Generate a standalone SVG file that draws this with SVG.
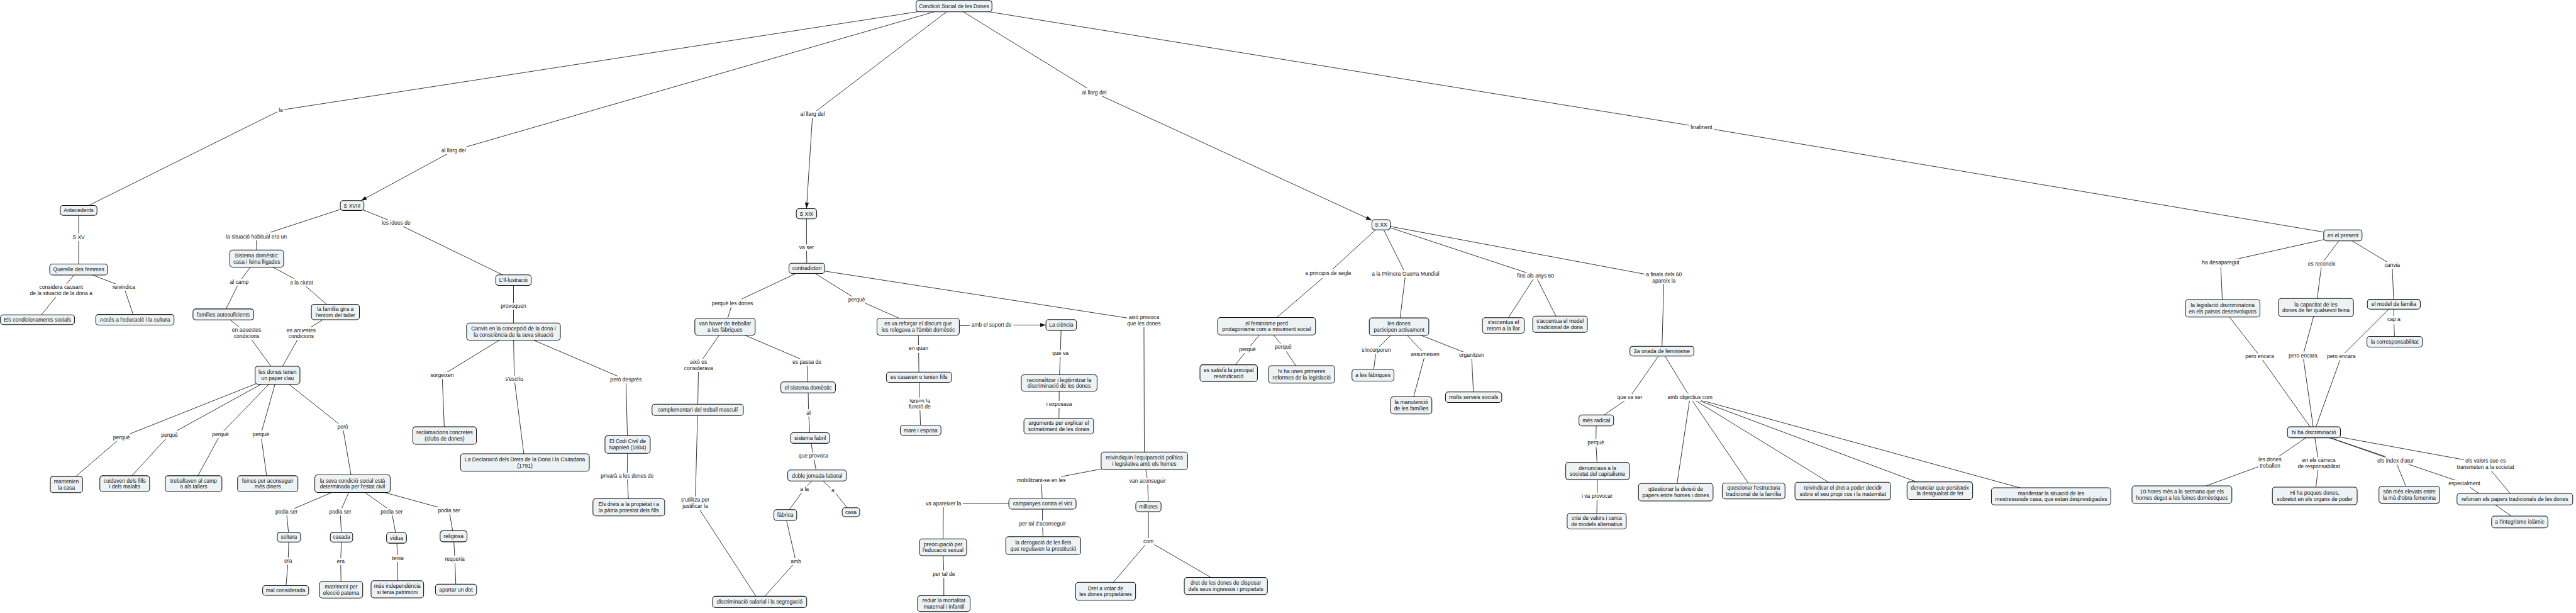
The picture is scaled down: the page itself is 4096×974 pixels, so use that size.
<svg xmlns="http://www.w3.org/2000/svg" width="4096" height="974" viewBox="0 0 4096 974">
<style>
.n rect{fill:#edf3f5;stroke:#111;stroke-width:1.6}
text{font-family:"Liberation Sans",Arial,sans-serif;font-size:13.2px;fill:#111;text-anchor:middle}
.l text{stroke:#fff;stroke-width:9;stroke-linejoin:round;paint-order:stroke}
.c path{stroke:#111;stroke-width:1.3;fill:none}
</style>
<defs>
<marker id="arr" markerUnits="userSpaceOnUse" markerWidth="14" markerHeight="10" refX="14" refY="5" orient="auto" viewBox="0 0 14 10"><path d="M0,0 L14,5 L0,10 z" fill="#111"/></marker>
</defs>
<rect width="4096" height="974" fill="#fff"/>
<g transform="scale(0.648)">
<g id="connectors" class="c">
<path d="M2341 15 L689 270 L193 516"/>
<path d="M2341 15 L1113 369"/><path d="M1113 369 L886 492" marker-end="url(#arr)"/>
<path d="M2341 15 L1994 279"/><path d="M1994 279 L1979 511" marker-end="url(#arr)"/>
<path d="M2341 15 L2685 227"/><path d="M2685 227 L3366 540" marker-end="url(#arr)"/>
<path d="M2341 15 L4175 312 L5749 577"/>
<path d="M193 516 L193 582 L193 661"/>
<path d="M193 661 L150 712 L92 784"/>
<path d="M193 661 L304 704 L331 784"/>
<path d="M864 504 L629 581 L630 634"/>
<path d="M864 504 L972 547 L1260 687"/>
<path d="M630 634 L587 692 L548 771"/>
<path d="M630 634 L740 693 L823 765"/>
<path d="M548 771 L605 816 L681 920"/>
<path d="M823 765 L739 817 L681 920"/>
<path d="M681 920 L298 1072 L163 1188"/>
<path d="M681 920 L416 1066 L306 1186"/>
<path d="M681 920 L541 1065 L475 1186"/>
<path d="M681 920 L640 1065 L657 1186"/>
<path d="M681 920 L841 1047 L865 1186"/>
<path d="M865 1186 L703 1255 L709 1317"/>
<path d="M865 1186 L835 1255 L838 1317"/>
<path d="M865 1186 L961 1254 L973 1319"/>
<path d="M865 1186 L1102 1251 L1113 1315"/>
<path d="M709 1317 L707 1375 L701 1448"/>
<path d="M838 1317 L836 1376 L837 1446"/>
<path d="M973 1319 L976 1369 L975 1445"/>
<path d="M1113 1315 L1116 1371 L1119 1446"/>
<path d="M1260 687 L1260 750 L1260 813"/>
<path d="M1260 813 L1085 920 L1091 1068"/>
<path d="M1260 813 L1262 929 L1288 1134"/>
<path d="M1260 813 L1536 931 L1540 1090"/>
<path d="M1540 1090 L1539 1166 L1543 1244"/>
<path d="M1979 524 L1979 606 L1980 658"/>
<path d="M1980 658 L1797 744 L1779 801"/>
<path d="M1980 658 L2102 734 L2253 801"/>
<path d="M1980 658 L2807 786 L2808 1130"/>
<path d="M1779 801 L1714 895 L1712 1005"/>
<path d="M1779 801 L1980 887 L1983 950"/>
<path d="M1983 950 L1984 1012 L1988 1074"/>
<path d="M1988 1074 L1996 1118 L2005 1166"/>
<path d="M2005 1166 L1974 1199 L1927 1263"/>
<path d="M2005 1166 L2044 1202 L2088 1256"/>
<path d="M1927 1263 L1953 1377 L1864 1476"/>
<path d="M1712 1005 L1706 1233 L1864 1476"/>
<path d="M2253 801 L2433 797"/><path d="M2433 797 L2566 797" marker-end="url(#arr)"/>
<path d="M2253 801 L2254 854 L2255 925"/>
<path d="M2255 925 L2257 990 L2259 1055"/>
<path d="M2604 797 L2602 866 L2599 939"/>
<path d="M2599 939 L2599 991 L2598 1045"/>
<path d="M2808 1130 L2555 1178 L2558 1235"/>
<path d="M2558 1235 L2315 1234 L2314 1342"/>
<path d="M2558 1235 L2558 1284 L2560 1338"/>
<path d="M2314 1342 L2316 1407 L2316 1480"/>
<path d="M2808 1130 L2816 1179 L2818 1242"/>
<path d="M2818 1242 L2818 1327 L2713 1450"/>
<path d="M2818 1327 L3008 1437"/>
<path d="M3389 551 L3259 670 L3108 800"/>
<path d="M3389 551 L3449 671 L3433 801"/>
<path d="M3389 551 L3768 676 L3689 798"/>
<path d="M3768 676 L3828 795"/>
<path d="M3389 551 L4083 681 L4078 861"/>
<path d="M3108 800 L3061 857 L3015 915"/>
<path d="M3108 800 L3149 851 L3194 918"/>
<path d="M3433 801 L3377 858 L3369 920"/>
<path d="M3433 801 L3497 869 L3463 994"/>
<path d="M3433 801 L3611 871 L3616 974"/>
<path d="M4078 861 L3999 974 L3917 1031"/>
<path d="M4078 861 L4147 974 L4112 1207"/>
<path d="M4147 974 L4303 1204"/>
<path d="M4147 974 L4522 1204"/>
<path d="M4147 974 L4760 1203"/>
<path d="M4147 974 L5033 1217"/>
<path d="M3917 1031 L3916 1085 L3920 1155"/>
<path d="M3920 1155 L3919 1216 L3918 1278"/>
<path d="M5749 577 L5449 644 L5454 756"/>
<path d="M5749 577 L5697 647 L5683 754"/>
<path d="M5749 577 L5870 650 L5874 746"/>
<path d="M5874 746 L5874 783 L5876 838"/>
<path d="M5454 756 L5545 873 L5678 1060"/>
<path d="M5683 754 L5651 872 L5678 1060"/>
<path d="M5874 746 L5745 874 L5678 1060"/>
<path d="M5678 1060 L5570 1134 L5354 1213"/>
<path d="M5678 1060 L5690 1136 L5680 1216"/>
<path d="M5678 1060 L5878 1130 L5912 1213"/>
<path d="M5678 1060 L6047 1185 L6183 1280"/>
<path d="M5678 1060 L6099 1137 L6171 1224"/>
<g class="l">
<text x="689" y="274.6">la</text>
<text x="1113" y="373.6">al llarg del</text>
<text x="1994" y="283.6">al llarg del</text>
<text x="2685" y="231.6">al llarg del</text>
<text x="4175" y="316.6">finalment</text>
<text x="193" y="586.6">S XV</text>
<text x="150" y="709.1">considera causant<tspan x="150" dy="15">de la situació de la dona a</tspan></text>
<text x="304" y="708.6">reivindica</text>
<text x="629" y="585.6">la situació habitual era un</text>
<text x="972" y="551.6">les idees de</text>
<text x="587" y="696.6">al camp</text>
<text x="740" y="697.6">a la ciutat</text>
<text x="605" y="813.1">en aquestes<tspan x="605" dy="15">condicions</tspan></text>
<text x="739" y="814.1">en aquestes<tspan x="739" dy="15">condicions</tspan></text>
<text x="298" y="1076.6">perquè</text>
<text x="416" y="1070.6">perquè</text>
<text x="541" y="1069.6">perquè</text>
<text x="640" y="1069.6">perquè</text>
<text x="841" y="1051.6">però</text>
<text x="703" y="1259.6">podia ser</text>
<text x="835" y="1259.6">podia ser</text>
<text x="961" y="1258.6">podia ser</text>
<text x="1102" y="1255.6">podia ser</text>
<text x="707" y="1379.6">era</text>
<text x="836" y="1380.6">era</text>
<text x="976" y="1373.6">tenia</text>
<text x="1116" y="1375.6">requeria</text>
<text x="1260" y="754.6">provoquen</text>
<text x="1085" y="924.6">sorgeixen</text>
<text x="1262" y="933.6">s'escriu</text>
<text x="1536" y="935.6">però després</text>
<text x="1539" y="1170.6">privarà a les dones de</text>
<text x="1979" y="610.6">va ser</text>
<text x="1797" y="748.6">perquè les dones</text>
<text x="2102" y="738.6">perquè</text>
<text x="2807" y="783.1">això provoca<tspan x="2807" dy="15">que les dones</tspan></text>
<text x="1714" y="892.1">això es<tspan x="1714" dy="15">considerava</tspan></text>
<text x="1980" y="891.6">es passa de</text>
<text x="1984" y="1016.6">al</text>
<text x="1996" y="1122.6">que provoca</text>
<text x="1974" y="1203.6">a la</text>
<text x="2044" y="1206.6">a</text>
<text x="1953" y="1381.6">amb</text>
<text x="1706" y="1230.1">s'utilitza per<tspan x="1706" dy="15">justificar la</tspan></text>
<text x="2433" y="801.6">amb el suport de</text>
<text x="2254" y="858.6">en quan</text>
<text x="2257" y="987.1">tenien la<tspan x="2257" dy="15">funció de</tspan></text>
<text x="2602" y="870.6">que va</text>
<text x="2599" y="995.6">i exposava</text>
<text x="2555" y="1182.6">mobilitzant-se en les</text>
<text x="2315" y="1238.6">va apareixer la</text>
<text x="2558" y="1288.6">per tal d'aconseguir</text>
<text x="2316" y="1411.6">per tal de</text>
<text x="2816" y="1183.6">van aconseguir</text>
<text x="2818" y="1331.6">com</text>
<text x="3259" y="674.6">a principis de segle</text>
<text x="3449" y="675.6">a la Primera Guerra Mundial</text>
<text x="3768" y="680.6">fins als anys 60</text>
<text x="4083" y="678.1">a finals dels 60<tspan x="4083" dy="15">apareix la</tspan></text>
<text x="3061" y="861.6">perquè</text>
<text x="3149" y="855.6">perquè</text>
<text x="3377" y="862.6">s'incorporen</text>
<text x="3497" y="873.6">assumeixen</text>
<text x="3611" y="875.6">organitzen</text>
<text x="3999" y="978.6">que va ser</text>
<text x="4147" y="978.6">amb objectius com</text>
<text x="3916" y="1089.6">perquè</text>
<text x="3919" y="1220.6">i va provocar</text>
<text x="5449" y="648.6">ha desaparegut</text>
<text x="5697" y="651.6">es reconeix</text>
<text x="5870" y="654.6">canvia</text>
<text x="5874" y="787.6">cap a</text>
<text x="5545" y="877.6">pero encara</text>
<text x="5651" y="876.6">pero encara</text>
<text x="5745" y="878.6">pero encara</text>
<text x="5570" y="1131.1">les dones<tspan x="5570" dy="15">treballen</tspan></text>
<text x="5690" y="1133.1">en els càrrecs<tspan x="5690" dy="15">de responsabilitat</tspan></text>
<text x="5878" y="1134.6">els índex d'atur</text>
<text x="6047" y="1189.6">especialment</text>
<text x="6099" y="1134.1">els valors que es<tspan x="6099" dy="15">transmeten a la societat</tspan></text>
</g>
</g>
<g id="n-root" class="n"><rect x="2248" y="1" width="186" height="28" rx="7"/><text x="2341" y="19.6">Condició Social de les Dones</text></g>
<g id="n-antecedents" class="n"><rect x="148" y="504" width="90" height="24" rx="7"/><text x="193" y="520.6">Antecedents</text></g>
<g id="n-querelle" class="n"><rect x="122" y="647.5" width="142" height="27" rx="7"/><text x="193" y="665.6">Querelle des femmes</text></g>
<g id="n-condicionaments" class="n"><rect x="1" y="772" width="182" height="24" rx="7"/><text x="92" y="788.6">Els condicionaments socials</text></g>
<g id="n-acces" class="n"><rect x="235" y="771" width="192" height="26" rx="7"/><text x="331" y="788.6">Accés a l'educació i la cultura</text></g>
<g id="n-s18" class="n"><rect x="835" y="492" width="58" height="24" rx="7"/><text x="864" y="508.6">S XVIII</text></g>
<g id="n-sistema" class="n"><rect x="564" y="613" width="132" height="42" rx="7"/><text x="630" y="631.1">Sistema domèstic:<tspan x="630" dy="15">casa i feina lligades</tspan></text></g>
<g id="n-families" class="n"><rect x="473.5" y="757.5" width="149" height="27" rx="7"/><text x="548" y="775.6">famílies autosuficients</text></g>
<g id="n-taller" class="n"><rect x="764" y="746" width="118" height="38" rx="7"/><text x="823" y="762.1">la família gira a<tspan x="823" dy="15">l'entorn del taller</tspan></text></g>
<g id="n-paperclau" class="n"><rect x="626" y="898" width="110" height="44" rx="7"/><text x="681" y="917.1">les dones tenen<tspan x="681" dy="15">un paper clau</tspan></text></g>
<g id="n-mantenien" class="n"><rect x="123.5" y="1168" width="79" height="40" rx="7"/><text x="163" y="1185.1">mantenien<tspan x="163" dy="15">la casa</tspan></text></g>
<g id="n-cuidaven" class="n"><rect x="245" y="1166.5" width="122" height="39" rx="7"/><text x="306" y="1183.1">cuidaven dels fills<tspan x="306" dy="15">i dels malalts</tspan></text></g>
<g id="n-treballaven" class="n"><rect x="405.5" y="1166.5" width="139" height="39" rx="7"/><text x="475" y="1183.1">treballaven al camp<tspan x="475" dy="15">o als tallers</tspan></text></g>
<g id="n-feines" class="n"><rect x="583" y="1166.5" width="148" height="39" rx="7"/><text x="657" y="1183.1">feines per aconseguir<tspan x="657" dy="15">més diners</tspan></text></g>
<g id="n-estatcivil" class="n"><rect x="772.5" y="1164.5" width="185" height="43" rx="7"/><text x="865" y="1183.1">la seva condició social està<tspan x="865" dy="15">determinada per l'estat civil</tspan></text></g>
<g id="n-soltera" class="n"><rect x="680.5" y="1305" width="57" height="24" rx="7"/><text x="709" y="1321.6">soltera</text></g>
<g id="n-casada" class="n"><rect x="810.5" y="1305" width="55" height="24" rx="7"/><text x="838" y="1321.6">casada</text></g>
<g id="n-vidua" class="n"><rect x="948.5" y="1306" width="49" height="26" rx="7"/><text x="973" y="1323.6">vídua</text></g>
<g id="n-religiosa" class="n"><rect x="1080" y="1301.5" width="66" height="27" rx="7"/><text x="1113" y="1319.6">religiosa</text></g>
<g id="n-malconsiderada" class="n"><rect x="644.5" y="1436" width="113" height="24" rx="7"/><text x="701" y="1452.6">mal considerada</text></g>
<g id="n-matrimoni" class="n"><rect x="784" y="1425.5" width="106" height="41" rx="7"/><text x="837" y="1443.1">matrimoni per<tspan x="837" dy="15">elecció paterna</tspan></text></g>
<g id="n-independencia" class="n"><rect x="910.5" y="1424" width="129" height="42" rx="7"/><text x="975" y="1442.1">més independència<tspan x="975" dy="15">si tenia patrimoni</tspan></text></g>
<g id="n-dot" class="n"><rect x="1068.5" y="1432.5" width="101" height="27" rx="7"/><text x="1119" y="1450.6">aportar un dot</text></g>
<g id="n-illustracio" class="n"><rect x="1216.5" y="674" width="87" height="26" rx="7"/><text x="1260" y="691.6">L'Il·lustració</text></g>
<g id="n-canvis" class="n"><rect x="1145" y="792" width="230" height="42" rx="7"/><text x="1260" y="810.1">Canvis en la concepció de la dona i<tspan x="1260" dy="15">la consciència de la seva situació</tspan></text></g>
<g id="n-reclamacions" class="n"><rect x="1013" y="1046.5" width="156" height="43" rx="7"/><text x="1091" y="1065.1">reclamacions concretes<tspan x="1091" dy="15">(clubs de dones)</tspan></text></g>
<g id="n-declaracio" class="n"><rect x="1130" y="1112.5" width="316" height="43" rx="7"/><text x="1288" y="1131.1">La Declaració dels Drets de la Dona i la Ciutadana<tspan x="1288" dy="15">(1791)</tspan></text></g>
<g id="n-codi" class="n"><rect x="1484.5" y="1068.5" width="111" height="43" rx="7"/><text x="1540" y="1087.1">El Codi Civil de<tspan x="1540" dy="15">Napoleó (1804)</tspan></text></g>
<g id="n-drets" class="n"><rect x="1455" y="1223" width="176" height="42" rx="7"/><text x="1543" y="1241.1">Els drets a la propietat i a<tspan x="1543" dy="15">la pàtria potestat dels fills</tspan></text></g>
<g id="n-s19" class="n"><rect x="1954" y="511.5" width="50" height="25" rx="7"/><text x="1979" y="528.6">S XIX</text></g>
<g id="n-contradictori" class="n"><rect x="1936" y="645.5" width="88" height="25" rx="7"/><text x="1980" y="662.6">contradictori</text></g>
<g id="n-fabriques" class="n"><rect x="1705" y="780" width="148" height="42" rx="7"/><text x="1779" y="798.1">van haver de treballar<tspan x="1779" dy="15">a les fàbriques</tspan></text></g>
<g id="n-complementari" class="n"><rect x="1600" y="991" width="224" height="28" rx="7"/><text x="1712" y="1009.6">complementari del treball masculí</text></g>
<g id="n-sisdomestic" class="n"><rect x="1916" y="936.5" width="134" height="27" rx="7"/><text x="1983" y="954.6">el sistema domèstic</text></g>
<g id="n-fabril" class="n"><rect x="1940" y="1061" width="96" height="26" rx="7"/><text x="1988" y="1078.6">sistema fabril</text></g>
<g id="n-doble" class="n"><rect x="1933" y="1152.5" width="144" height="27" rx="7"/><text x="2005" y="1170.6">doble jornada laboral</text></g>
<g id="n-fabrica" class="n"><rect x="1899" y="1249.5" width="56" height="27" rx="7"/><text x="1927" y="1267.6">fàbrica</text></g>
<g id="n-casa" class="n"><rect x="2066.5" y="1245" width="43" height="22" rx="7"/><text x="2088" y="1260.6">casa</text></g>
<g id="n-salarial" class="n"><rect x="1748.5" y="1462" width="231" height="28" rx="7"/><text x="1864" y="1480.6">discriminació salarial i la segregació</text></g>
<g id="n-reforcar" class="n"><rect x="2152" y="780" width="202" height="42" rx="7"/><text x="2253" y="798.1">es va reforçar el discurs que<tspan x="2253" dy="15">les relegava a l'àmbit domèstic</tspan></text></g>
<g id="n-ciencia" class="n"><rect x="2566.5" y="783.5" width="75" height="27" rx="7"/><text x="2604" y="801.6">La ciència</text></g>
<g id="n-casaven" class="n"><rect x="2175" y="912.5" width="160" height="25" rx="7"/><text x="2255" y="929.6">es casaven o tenien fills</text></g>
<g id="n-mare" class="n"><rect x="2209" y="1042.5" width="100" height="25" rx="7"/><text x="2259" y="1059.6">mare i esposa</text></g>
<g id="n-racionalitzar" class="n"><rect x="2506" y="919" width="186" height="40" rx="7"/><text x="2599" y="936.1">racionalitzar i legitimitzar la<tspan x="2599" dy="15">discriminació de les dones</tspan></text></g>
<g id="n-arguments" class="n"><rect x="2512.5" y="1026" width="171" height="38" rx="7"/><text x="2598" y="1042.1">arguments per explicar el<tspan x="2598" dy="15">sotmetiment de les dones</tspan></text></g>
<g id="n-reivindiquin" class="n"><rect x="2702" y="1108.5" width="212" height="43" rx="7"/><text x="2808" y="1127.1">reivindiquin l'equiparació política<tspan x="2808" dy="15">i legislativa amb els homes</tspan></text></g>
<g id="n-campanyes" class="n"><rect x="2475.5" y="1221.5" width="165" height="27" rx="7"/><text x="2558" y="1239.6">campanyes contra el vici</text></g>
<g id="n-preocupacio" class="n"><rect x="2256" y="1321.5" width="116" height="41" rx="7"/><text x="2314" y="1339.1">preocupació per<tspan x="2314" dy="15">l'educació sexual</tspan></text></g>
<g id="n-derogacio" class="n"><rect x="2468" y="1316" width="184" height="44" rx="7"/><text x="2560" y="1335.1">la derogació de les lleis<tspan x="2560" dy="15">que regulaven la prostitució</tspan></text></g>
<g id="n-reduir" class="n"><rect x="2251.5" y="1460.5" width="129" height="39" rx="7"/><text x="2316" y="1477.1">reduir la mortalitat<tspan x="2316" dy="15">maternal i infantil</tspan></text></g>
<g id="n-millores" class="n"><rect x="2787" y="1229.5" width="62" height="25" rx="7"/><text x="2818" y="1246.6">millores</text></g>
<g id="n-vot" class="n"><rect x="2639.5" y="1428" width="147" height="44" rx="7"/><text x="2713" y="1447.1">Dret a votar de<tspan x="2713" dy="15">les dones propietàries</tspan></text></g>
<g id="n-disposar" class="n"><rect x="2906" y="1416" width="204" height="42" rx="7"/><text x="3008" y="1434.1">dret de les dones de disposar<tspan x="3008" dy="15">dels seus ingressos i propietats</tspan></text></g>
<g id="n-s20" class="n"><rect x="3366.5" y="538.5" width="45" height="25" rx="7"/><text x="3389" y="555.6">S XX</text></g>
<g id="n-feminismeperd" class="n"><rect x="2988" y="778.5" width="240" height="43" rx="7"/><text x="3108" y="797.1">el feminisme perd<tspan x="3108" dy="15">protagonisme com a moviment social</tspan></text></g>
<g id="n-satisfa" class="n"><rect x="2944.5" y="894.5" width="141" height="41" rx="7"/><text x="3015" y="912.1">es satisfà la principal<tspan x="3015" dy="15">reivindicació</tspan></text></g>
<g id="n-reformes" class="n"><rect x="3113" y="896.5" width="162" height="43" rx="7"/><text x="3194" y="915.1">hi ha unes primeres<tspan x="3194" dy="15">reformes de la legislació</tspan></text></g>
<g id="n-participen" class="n"><rect x="3360" y="779.5" width="146" height="43" rx="7"/><text x="3433" y="798.1">les dones<tspan x="3433" dy="15">participen activament</tspan></text></g>
<g id="n-afabriques" class="n"><rect x="3317.5" y="905.5" width="103" height="29" rx="7"/><text x="3369" y="924.6">a les fàbriques</text></g>
<g id="n-manutencio" class="n"><rect x="3412.5" y="973" width="101" height="42" rx="7"/><text x="3463" y="991.1">la manutenció<tspan x="3463" dy="15">de les famílies</tspan></text></g>
<g id="n-serveis" class="n"><rect x="3547" y="961" width="138" height="26" rx="7"/><text x="3616" y="978.6">molts serveis socials</text></g>
<g id="n-retorn" class="n"><rect x="3637.5" y="779" width="103" height="38" rx="7"/><text x="3689" y="795.1">s'accentua el<tspan x="3689" dy="15">retorn a la llar</tspan></text></g>
<g id="n-modeltrad" class="n"><rect x="3761" y="775" width="134" height="40" rx="7"/><text x="3828" y="792.1">s'accentua el model<tspan x="3828" dy="15">tradicional de dona</tspan></text></g>
<g id="n-onada" class="n"><rect x="3999.5" y="849" width="157" height="24" rx="7"/><text x="4078" y="865.6">2a onada de feminisme</text></g>
<g id="n-radical" class="n"><rect x="3874.5" y="1017.5" width="85" height="27" rx="7"/><text x="3917" y="1035.6">més radical</text></g>
<g id="n-capitalisme" class="n"><rect x="3842" y="1133.5" width="156" height="43" rx="7"/><text x="3920" y="1152.1">denunciava a la<tspan x="3920" dy="15">societat del capitalisme</tspan></text></g>
<g id="n-crisi" class="n"><rect x="3845.5" y="1259" width="145" height="38" rx="7"/><text x="3918" y="1275.1">crisi de valors i cerca<tspan x="3918" dy="15">de models alternatius</tspan></text></g>
<g id="n-qdivisio" class="n"><rect x="4020.5" y="1185.5" width="183" height="43" rx="7"/><text x="4112" y="1204.1">qüestionar la divisió de<tspan x="4112" dy="15">papers entre homes i dones</tspan></text></g>
<g id="n-qestructura" class="n"><rect x="4226" y="1184.5" width="154" height="39" rx="7"/><text x="4303" y="1201.1">qüestionar l'estructura<tspan x="4303" dy="15">tradicional de la família</tspan></text></g>
<g id="n-reivcos" class="n"><rect x="4404.5" y="1182.5" width="235" height="43" rx="7"/><text x="4522" y="1201.1">reivindicar el dret a poder decidir<tspan x="4522" dy="15">sobre el seu propi cos i la maternitat</tspan></text></g>
<g id="n-desigualtat" class="n"><rect x="4679.5" y="1181.5" width="161" height="43" rx="7"/><text x="4760" y="1200.1">denunciar que persisteix<tspan x="4760" dy="15">la desigualtat de fet</tspan></text></g>
<g id="n-mestresses" class="n"><rect x="4886.5" y="1196" width="293" height="42" rx="7"/><text x="5033" y="1214.1">manifestar la situació de les<tspan x="5033" dy="15">mestressesde casa, que estan desprestigiades</tspan></text></g>
<g id="n-present" class="n"><rect x="5702" y="563.5" width="94" height="27" rx="7"/><text x="5749" y="581.6">en el present</text></g>
<g id="n-legislacio" class="n"><rect x="5362.5" y="734.5" width="183" height="43" rx="7"/><text x="5454" y="753.1">la legislació discriminatoria<tspan x="5454" dy="15">en els paisos desenvolupats</tspan></text></g>
<g id="n-capacitat" class="n"><rect x="5591" y="732" width="184" height="44" rx="7"/><text x="5683" y="751.1">la capacitat de les<tspan x="5683" dy="15">dones de fer qualsevol feina</tspan></text></g>
<g id="n-modelfam" class="n"><rect x="5809" y="734" width="130" height="24" rx="7"/><text x="5874" y="750.6">el model de familia</text></g>
<g id="n-corresp" class="n"><rect x="5808" y="825" width="136" height="26" rx="7"/><text x="5876" y="842.6">la corresponsabilitat</text></g>
<g id="n-hihadisc" class="n"><rect x="5613" y="1046.5" width="130" height="27" rx="7"/><text x="5678" y="1064.6">hi ha discriminació</text></g>
<g id="n-hores" class="n"><rect x="5231.5" y="1191.5" width="245" height="43" rx="7"/><text x="5354" y="1210.1">10 hores més a la setmana que els<tspan x="5354" dy="15">homes degut a les feines domèstiques</tspan></text></g>
<g id="n-poques" class="n"><rect x="5576" y="1194.5" width="208" height="43" rx="7"/><text x="5680" y="1213.1">Hi ha poques dones,<tspan x="5680" dy="15">sobretot en els organs de poder</tspan></text></g>
<g id="n-elevats" class="n"><rect x="5837.5" y="1192" width="149" height="42" rx="7"/><text x="5912" y="1210.1">són més elevats entre<tspan x="5912" dy="15">la mà d'obra femenina</tspan></text></g>
<g id="n-reforcen" class="n"><rect x="6029" y="1210" width="284" height="28" rx="7"/><text x="6171" y="1228.6">reforcen els papers tradicionals de les dones</text></g>
<g id="n-integrisme" class="n"><rect x="6114" y="1265.5" width="138" height="29" rx="7"/><text x="6183" y="1284.6">a l'integrisme islàmic</text></g>
</g>
</svg>
